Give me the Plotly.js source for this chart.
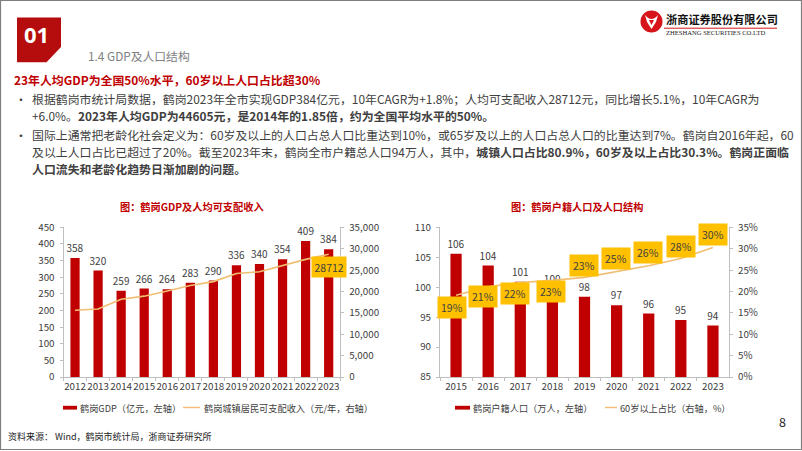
<!DOCTYPE html>
<html><head><meta charset="utf-8">
<script src="https://cdn.plot.ly/plotly-3.0.1.min.js"></script>
<style>html,body{margin:0;padding:0;background:#fff}#c{width:802px;height:451px}</style>
</head><body><div id="c"></div>
<script>
// ---- data ----
const years1 = ['2012','2013','2014','2015','2016','2017','2018','2019','2020','2021','2022','2023'];
const gdp = [358,320,259,266,264,283,290,336,340,354,409,384];
const income = [15600,15900,18200,18900,20100,21400,22300,24200,24600,26000,27500,28712];
const years2 = ['2015','2016','2017','2018','2019','2020','2021','2022','2023'];
const population = [105.6,103.6,100.9,99.7,98.4,97.0,95.6,94.5,93.6];
const oldShare = [19.1,21.1,22.1,22.6,23.3,24.6,26.0,27.7,30.3];
// label offsets (style only)
const oldLabelShift = [-12,-10,-11,-11,12,13,13,12,13];
const oldLabelXShift = [-4,-5,-5,-1,-1,-1,-1,0,0];

const W = 802, H = 451;
const X = p => p / W, Y = p => 1 - p / H;
const FONT = '"Noto Sans CJK SC", "Noto Sans", sans-serif';
const CJK = FONT;
const RED = '#C00000', GRAY = '#404040', AX = '#BFBFBF', LINE = '#F0BE72';

const traces = [
  {type:'bar', x:years1, y:gdp, xaxis:'x', yaxis:'y', marker:{color:RED}, width:0.4,
   text:gdp.map(String), textposition:'outside', cliponaxis:false, constraintext:'none',
   textfont:{size:10, color:GRAY, family:FONT}, hoverinfo:'skip'},
  {type:'scatter', mode:'lines', x:years1, y:income, xaxis:'x', yaxis:'y2',
   line:{color:LINE, width:1.6}, hoverinfo:'skip'},
  {type:'bar', x:years2, y:population, xaxis:'x2', yaxis:'y3', marker:{color:RED}, width:0.35,
   text:population.map(v=>String(Math.round(v))), textposition:'outside', cliponaxis:false, constraintext:'none',
   textfont:{size:10, color:GRAY, family:FONT}, hoverinfo:'skip'},
  {type:'scatter', mode:'lines', x:years2, y:oldShare, xaxis:'x2', yaxis:'y4',
   line:{color:LINE, width:1.6}, hoverinfo:'skip'}
];

const tickF = {size:9.8, color:GRAY, family:FONT};
const axBase = {showline:true, linecolor:AX, linewidth:1, ticks:'outside', ticklen:3, tickcolor:AX,
  showgrid:false, zeroline:false, tickfont:tickF, fixedrange:true};
const yDom = [Y(377), Y(227.3)];

const layout = {
  width:W, height:H, margin:{l:0,r:0,t:0,b:0}, paper_bgcolor:'#fff', plot_bgcolor:'rgba(0,0,0,0)',
  showlegend:false, font:{family:FONT, color:GRAY},
  xaxis: Object.assign({}, axBase, {domain:[X(63.5), X(340.2)], type:'category', anchor:'y', tickson:'boundaries',
    range:[-0.5, years1.length-0.5], autorange:false, tickangle:0}),
  yaxis: Object.assign({}, axBase, {domain:yDom, range:[0,450], dtick:50, anchor:'x', ticklabelstandoff:3}),
  yaxis2: Object.assign({}, axBase, {overlaying:'y', side:'right', range:[0,35000], dtick:5000, tickformat:',', anchor:'x', ticklabelstandoff:3}),
  xaxis2: Object.assign({}, axBase, {domain:[X(440), X(729)], type:'category', anchor:'y3', tickson:'boundaries',
    range:[-0.5, years2.length-0.5], autorange:false, tickangle:0}),
  yaxis3: Object.assign({}, axBase, {domain:yDom, range:[85,110], dtick:5, anchor:'x2', ticklabelstandoff:3}),
  yaxis4: Object.assign({}, axBase, {overlaying:'y3', side:'right', range:[0,35], dtick:5, ticksuffix:'%', anchor:'x2', ticklabelstandoff:3}),
  shapes: [], annotations: []
};

const S = layout.shapes, A = layout.annotations;
function txt(x, y, text, size, opts) {
  A.push(Object.assign({xref:'paper', yref:'paper', x:X(x), y:Y(y), text:text, showarrow:false,
    xanchor:'left', yanchor:'middle', font:{size:size, color:GRAY, family:FONT}}, opts||{}));
}
function rect(x0,y0,x1,y1,fill,line) {
  S.push({type:'rect', xref:'paper', yref:'paper', x0:X(x0), x1:X(x1), y0:Y(y0), y1:Y(y1),
    fillcolor:fill, line:line||{width:0}});
}

// frame
S.push({type:'rect', xref:'paper', yref:'paper', x0:X(0.5), x1:X(801.5), y0:Y(0.5), y1:Y(449.5),
  line:{color:'#7F7F7F', width:1.2}, fillcolor:'rgba(0,0,0,0)'});

// header box "01"
S.push({type:'path', xref:'paper', yref:'paper',
  path:`M ${X(17)} ${Y(17.5)} L ${X(61)} ${Y(17.5)} L ${X(61)} ${Y(47)} L ${X(46.5)} ${Y(62.3)} L ${X(17)} ${Y(62.3)} Z`,
  fillcolor:'#B50D0D', line:{width:0}});
txt(36, 34, '<b>01</b>', 22, {xanchor:'center', font:{size:22, color:'#fff', family:'"Open Sans", '+CJK}});
txt(86, 55, '1.4 GDP及人口结构', 11.8, {font:{size:11.8, color:'#808080', family:FONT}});

// logo
S.push({type:'circle', xref:'paper', yref:'paper', x0:X(640.5), x1:X(662.5), y0:Y(10.5), y1:Y(32.5),
  fillcolor:'#D7141A', line:{width:0}});
S.push({type:'path', xref:'paper', yref:'paper',
  path:`M ${X(645)} ${Y(15)} Q ${X(651.5)} ${Y(23)} ${X(658)} ${Y(15)} L ${X(656)} ${Y(22)} L ${X(651.5)} ${Y(29)} L ${X(647)} ${Y(22)} Z`,
  fillcolor:'#ffffff', line:{width:0}});
S.push({type:'path', xref:'paper', yref:'paper',
  path:`M ${X(649)} ${Y(20)} L ${X(654)} ${Y(20)} L ${X(651.5)} ${Y(25)} Z`,
  fillcolor:'#D7141A', line:{width:0}});
txt(663.5, 19.5, '<b>浙商证券股份有限公司</b>', 11.2, {font:{size:11.2, color:'#111', family:CJK}});
S.push({type:'line', xref:'paper', yref:'paper', x0:X(664), x1:X(777), y0:Y(28.2), y1:Y(28.2),
  line:{color:'#D7141A', width:1}});
txt(664, 33, 'ZHESHANG SECURITIES CO.LTD', 6.6, {font:{size:6.6, color:'#222', family:'"Liberation Serif", serif'}});

// headline and bullets
txt(12, 79, '<b>23年人均GDP为全国50%水平，60岁以上人口占比超30%</b>', 11.9, {font:{size:11.9, color:RED, family:FONT}});
const bodyF = 11.9;
txt(13, 98, '•', bodyF);
txt(30, 98, '根据鹤岗市统计局数据，鹤岗2023年全市实现GDP384亿元，10年CAGR为+1.8%；人均可支配收入28712元，同比增长5.1%，10年CAGR为', bodyF);
txt(30, 115, '+6.0%。<b>2023年人均GDP为44605元，是2014年的1.85倍，约为全国平均水平的50%。</b>', bodyF);
txt(13, 134, '•', bodyF);
txt(30, 134, '国际上通常把老龄化社会定义为：60岁及以上的人口占总人口比重达到10%，或65岁及以上的人口占总人口的比重达到7%。鹤岗自2016年起，60', bodyF);
txt(30, 151, '及以上人口占比已超过了20%。截至2023年末，鹤岗全市户籍总人口94万人，其中，<b>城镇人口占比80.9%，60岁及以上占比30.3%。鹤岗正面临</b>', bodyF);
txt(30, 168, '<b>人口流失和老龄化趋势日渐加剧的问题。</b>', bodyF);

// chart titles
txt(192, 206, '<b>图：鹤岗GDP及人均可支配收入</b>', 10.2, {xanchor:'center', font:{size:10.2, color:RED, family:CJK}});
txt(577, 206, '<b>图：鹤岗户籍人口及人口结构</b>', 10.2, {xanchor:'center', font:{size:10.2, color:RED, family:CJK}});

// chart 1 line label (x as category index)
const last1 = years1.length - 1;
A.push({xref:'x', yref:'y2', x:last1, y:income[last1], text:String(income[last1]),
  showarrow:false, yshift:-13, bgcolor:'#FFC000', borderpad:2.5, font:{size:10.5, color:GRAY, family:FONT}});

// chart 2 line labels
years2.forEach((yr,i) => {
  A.push({xref:'x2', yref:'y4', x:i, y:oldShare[i], text:Math.round(oldShare[i])+'%', showarrow:false,
    yshift:oldLabelShift[i], xshift:oldLabelXShift[i], bgcolor:'#FFC000', borderpad:3,
    font:{size:10.5, color:GRAY, family:FONT}});
});

// legends
const legF = 9.2;
rect(63, 405.8, 77, 409.6, RED);
txt(77.5, 408, '鹤岗GDP（亿元，左轴）', legF, {font:{size:legF, color:GRAY, family:CJK}});
S.push({type:'line', xref:'paper', yref:'paper', x0:X(183), x1:X(200), y0:Y(407.5), y1:Y(407.5), line:{color:LINE, width:1.4}});
txt(201.5, 408, '鹤岗城镇居民可支配收入（元/年，右轴）', legF, {font:{size:legF, color:GRAY, family:CJK}});
rect(455, 405.8, 470, 409.6, RED);
txt(470.5, 408, '鹤岗户籍人口（万人，左轴）', legF, {font:{size:legF, color:GRAY, family:CJK}});
S.push({type:'line', xref:'paper', yref:'paper', x0:X(605), x1:X(617), y0:Y(407.5), y1:Y(407.5), line:{color:LINE, width:1.4}});
txt(617.5, 408, '60岁以上占比（右轴，%）', legF, {font:{size:legF, color:GRAY, family:CJK}});

// footer
txt(782, 421, '8', 12.5, {xanchor:'center', font:{size:12.5, color:'#222', family:FONT}});
txt(6, 436, '资料来源： Wind，鹤岗市统计局，浙商证券研究所', 9, {font:{size:9, color:'#222', family:CJK}});

Plotly.newPlot('c', traces, layout, {staticPlot:true, displayModeBar:false});
</script>
</body></html>
